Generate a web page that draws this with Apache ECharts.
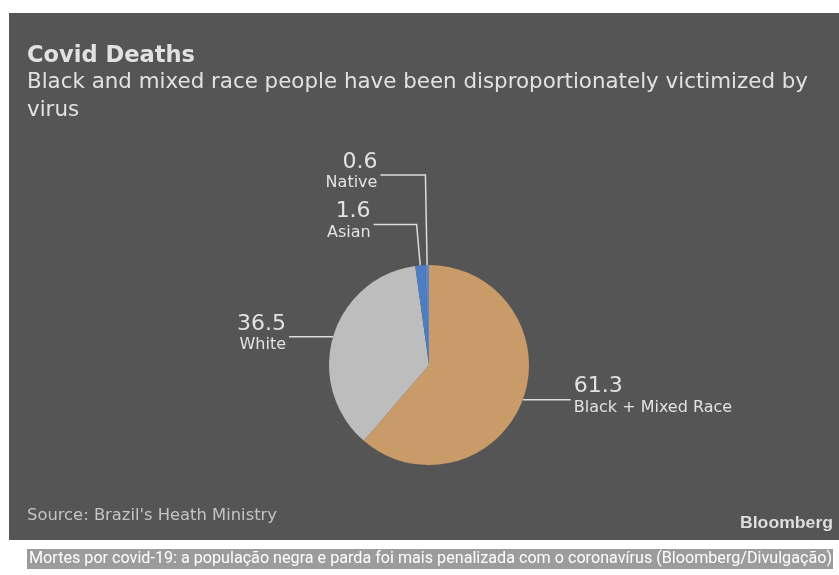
<!DOCTYPE html>
<html>
<head>
<meta charset="utf-8">
<script src="https://cdn.jsdelivr.net/npm/echarts@6/dist/echarts.min.js"></script>
<style>
html,body{margin:0;padding:0;background:#ffffff;}
#chart{width:839px;height:575px;}
</style>
</head>
<body>
<div id="chart"></div>
<script>
const titleText = 'Covid Deaths';
const subtitleLines = ['Black and mixed race people have been disproportionately victimized by', 'virus'];
const sourceText = "Source: Brazil's Heath Ministry";
const brandText = 'Bloomberg';
const captionText = 'Mortes por covid-19: a população negra e parda foi mais penalizada com o coronavírus (Bloomberg/Divulgação)';

const categories = ['Black + Mixed Race', 'White', 'Asian', 'Native'];
const values = [61.3, 36.5, 1.6, 0.6];
const sliceColors = ['#c99b69', '#bdbdbd', '#4d7dc2', '#5f86c0'];
const lineLengths = [0, 0, 41, 90];
const lineLengths2 = [48, 44, 43, 45];

const measureCtx = document.createElement('canvas').getContext('2d');
function fitScale(text, font, targetWidth) {
  measureCtx.font = font;
  return targetWidth / measureCtx.measureText(text).width;
}
function fittedText(text, x, y, family, size, weight, color, targetWidth, align) {
  const font = (weight === 'bold' ? 'bold ' : '') + size + 'px "' + family + '"';
  const s = fitScale(text, font, targetWidth);
  return {
    type: 'text', x: x, y: y, scaleX: s, silent: true,
    style: { text: text, x: 0, y: 0, fontFamily: family, fontSize: size, fontWeight: weight, fill: color, align: align || 'left', verticalAlign: 'middle' }
  };
}

const chart = echarts.init(document.getElementById('chart'));

const data = categories.map((name, i) => ({
  name: name,
  value: values[i],
  itemStyle: { color: sliceColors[i] },
  labelLine: { length: lineLengths[i], length2: lineLengths2[i] }
}));

const subScale = fitScale(subtitleLines[0], '21px "DejaVu Sans"', 781);

chart.setOption({
  backgroundColor: '#ffffff',
  animation: false,
  graphic: [
    { type: 'rect', z: -10, silent: true, shape: { x: 9, y: 13, width: 830, height: 527 }, style: { fill: '#555555' } },
    fittedText(titleText, 27, 56, 'DejaVu Sans', 23, 'bold', '#e2e2e2', 168),
    { type: 'text', x: 27, y: 83, scaleX: subScale, silent: true,
      style: { text: subtitleLines[0], x: 0, y: 0, fontFamily: 'DejaVu Sans', fontSize: 21, fill: '#e2e2e2', verticalAlign: 'middle' } },
    { type: 'text', x: 27, y: 111, scaleX: subScale, silent: true,
      style: { text: subtitleLines[1], x: 0, y: 0, fontFamily: 'DejaVu Sans', fontSize: 21, fill: '#e2e2e2', verticalAlign: 'middle' } },
    fittedText(sourceText, 27, 516, 'DejaVu Sans', 15, 'normal', '#c4c4c4', 250),
    fittedText(brandText, 740, 523, 'Liberation Sans', 17, 'bold', '#dedede', 93),
    { type: 'rect', silent: true, shape: { x: 27, y: 549, width: 806, height: 20 }, style: { fill: '#9c9c9c' } },
    fittedText(captionText, 29, 559, 'Roboto', 17, 'normal', '#ffffff', 803)
  ],
  series: [{
    type: 'pie',
    center: [429, 365],
    radius: 100,
    startAngle: 90,
    clockwise: true,
    avoidLabelOverlap: false,
    silent: true,
    data: data,
    label: {
      show: true,
      position: 'outside',
      distanceToLabelLine: 3,
      formatter: p => '{v|' + p.value + '}\n{n|' + p.name + '}',
      padding: [0, 0, 8, 0],
      rich: {
        v: { fontFamily: 'DejaVu Sans', fontSize: 22, color: '#e2e2e2', lineHeight: 24 },
        n: { fontFamily: 'DejaVu Sans', fontSize: 16, color: '#e2e2e2', lineHeight: 18 }
      }
    },
    labelLine: {
      show: true,
      smooth: false,
      lineStyle: { color: '#dcdcdc', width: 1.5 }
    }
  }]
});
</script>
</body>
</html>
